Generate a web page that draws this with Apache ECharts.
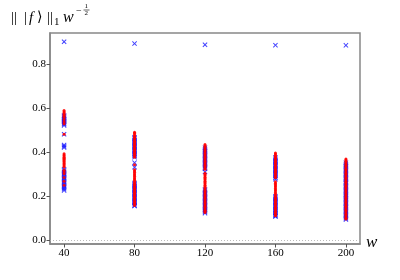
<!DOCTYPE html>
<html><head><meta charset="utf-8">
<script src="https://cdn.jsdelivr.net/npm/echarts@6/dist/echarts.min.js"></script>
<style>html,body{margin:0;padding:0;background:#fff}#c{width:400px;height:280px}</style>
</head><body><div id="c"></div>
<script>
// categories (w values)
const wValues = [40, 80, 120, 160, 200];
const xTicks = [40, 80, 120, 160, 200];
const yTicks = [0, 0.2, 0.4, 0.6, 0.8];

// red dots, per w
const red40 = [0.588,0.583,0.578,0.573,0.568,0.563,0.558,0.548,0.538,0.528,0.481,
  0.392,0.387,0.382,0.377,0.372,0.367,0.362,0.357,0.352,0.347,0.342,0.337,0.332,
  0.318,0.31,0.302,0.285,0.268,0.25];
const red80 = [0.49,0.485,0.479,0.473,0.467,0.461,0.455,0.449,0.443,0.437,0.431,0.425,0.419,0.413,0.407,0.401,0.395,0.389,0.383,0.377,
  0.342,0.32,0.314,0.308,0.302,0.296,0.29,0.284,0.278,0.272,0.266,0.26,0.254,0.248,0.242,0.236,0.23,0.224,0.218,0.212,0.206,0.2,0.194,0.188,0.182,0.176,0.17,0.164,0.158];
const red120 = [0.434,0.429,0.424,0.418,0.412,0.406,0.4,0.394,0.388,0.382,0.376,0.37,0.364,0.358,0.352,0.346,0.34,0.334,0.328,0.322,
  0.304,0.298,0.292,0.286,0.28,0.274,0.268,0.262,0.256,0.25,0.244,0.238,0.232,0.226,0.22,0.214,0.208,0.202,0.196,0.19,0.184,0.178,0.172,0.166,0.16,0.154,0.148,0.142,0.136,0.13,0.126];
const red160 = [0.396,0.391,0.386,0.38,0.374,0.368,0.362,0.356,0.35,0.344,0.338,0.332,0.326,0.32,0.314,0.308,0.302,0.296,0.29,0.283,
  0.265,0.259,0.253,0.247,0.241,0.235,0.229,0.223,0.217,0.211,0.205,0.199,0.193,0.187,0.181,0.175,0.169,0.163,0.157,0.151,0.145,0.139,0.133,0.127,0.121,0.115,0.111];
const red200 = [0.369,0.364,0.358,0.352,0.346,0.34,0.334,0.328,0.322,0.316,0.31,0.304,0.298,0.292,0.286,0.28,0.274,0.268,0.262,0.256,
  0.25,0.244,0.238,0.232,0.226,0.22,0.214,0.208,0.202,0.196,0.19,0.184,0.178,0.172,0.166,0.16,0.154,0.148,0.142,0.136,0.13,0.124,0.118,0.112,0.106,0.1,0.096];

// blue crosses, per w
const blue40 = [0.9,0.566,0.561,0.556,0.551,0.546,0.541,0.536,0.531,0.526,0.521,0.481,0.432,0.426,0.421,
  0.322,0.316,0.31,0.304,0.298,0.292,0.286,0.28,0.274,0.268,0.262,0.256,0.25,0.244,0.238,0.232,0.226];
const blue80 = [0.892,0.467,0.461,0.455,0.449,0.443,0.437,0.431,0.425,0.419,0.413,0.407,0.401,0.395,0.389,0.383,0.377,
  0.352,0.331,0.26,0.254,0.248,0.242,0.236,0.23,0.224,0.218,0.212,0.206,0.2,0.194,0.188,0.182,0.176,0.17,0.164,0.158,0.155];
const blue120 = [0.887,0.42,0.414,0.408,0.402,0.396,0.39,0.384,0.378,0.372,0.366,0.36,0.354,0.348,0.342,0.336,0.33,0.324,0.31,
  0.23,0.224,0.218,0.212,0.206,0.2,0.194,0.188,0.182,0.176,0.17,0.164,0.158,0.152,0.146,0.14,0.134,0.128,0.123];
const blue160 = [0.885,0.375,0.369,0.363,0.357,0.351,0.345,0.339,0.333,0.327,0.321,0.315,0.309,0.303,0.297,0.291,0.284,0.277,
  0.2,0.194,0.188,0.182,0.176,0.17,0.164,0.158,0.152,0.146,0.14,0.134,0.128,0.122,0.116,0.11,0.108];
const blue200 = [0.884,0.352,0.346,0.34,0.334,0.328,0.322,0.316,0.31,0.304,0.298,0.292,0.286,0.28,0.274,0.268,0.262,0.257,
  0.25,0.244,0.238,0.232,0.226,0.22,0.214,0.208,0.202,0.196,0.19,0.184,0.178,0.172,0.166,0.16,0.154,0.148,0.142,0.136,0.13,0.124,0.118,0.112,0.106,0.1,0.094];

const redSets = [red40, red80, red120, red160, red200];
const blueSets = [blue40, blue80, blue120, blue160, blue200];
const redData = [], blueData = [];
wValues.forEach((w, i) => {
  redSets[i].forEach(v => redData.push([w, v]));
  blueSets[i].forEach(v => blueData.push([w, v]));
});

const serif = '"Liberation Serif", "DejaVu Serif", serif';
const cross = 'path://M0,1.4L1.4,0L5,3.6L8.6,0L10,1.4L6.4,5L10,8.6L8.6,10L5,6.4L1.4,10L0,8.6L3.6,5Z';

const chart = echarts.init(document.getElementById('c'), null, {renderer: 'canvas'});
chart.setOption({
  animation: false,
  grid: {left: 50, right: 40, top: 33, bottom: 36, show: true, borderColor: '#888', borderWidth: 1.5, backgroundColor: 'transparent'},
  xAxis: {
    type: 'value', min: 32, max: 208,
    splitLine: {show: false},
    axisLine: {show: true, onZero: false, lineStyle: {color: '#888', width: 1.5}},
    axisTick: {show: true, length: 3.5, lineStyle: {color: '#555'}, customValues: xTicks},
    axisLabel: {customValues: xTicks, color: '#000', fontFamily: serif, fontSize: 11, margin: 4}
  },
  yAxis: {
    type: 'value', min: -0.017, max: 0.94,
    splitLine: {show: false},
    axisLine: {show: true, onZero: false, lineStyle: {color: '#888', width: 1.5}},
    axisTick: {show: true, length: 3.5, lineStyle: {color: '#555'}, customValues: yTicks},
    axisLabel: {customValues: yTicks, color: '#000', fontFamily: serif, fontSize: 11, margin: 4,
      formatter: v => v.toFixed(1)}
  },
  series: [
    {type: 'scatter', data: blueData, symbol: cross, symbolSize: 5,
      itemStyle: {color: '#1010ff', opacity: 0.8}, z: 2,
      markLine: {silent: true, symbol: 'none', label: {show: false},
        lineStyle: {color: '#aaa', type: [1, 2], width: 0.8}, data: [{yAxis: 0}]}},
    {type: 'scatter', data: redData, symbol: 'circle', symbolSize: 3,
      itemStyle: {color: '#ff0000', opacity: 0.9}, z: 3}
  ],
  graphic: [
    {type: 'text', left: 11, top: 11, style: {text: '||', fontFamily: serif, fontSize: 15, fill: '#000'}},
    {type: 'text', left: 24, top: 11, style: {text: '|', fontFamily: serif, fontSize: 15, fill: '#000'}},
    {type: 'text', left: 29, top: 11, style: {text: 'f', fontFamily: serif, fontSize: 15, fontStyle: 'italic', fill: '#000'}},
    {type: 'text', left: 37, top: 10, style: {text: '⟩', fontFamily: '"DejaVu Serif", serif', fontSize: 14, fill: '#000'}},
    {type: 'text', left: 47, top: 11, style: {text: '||', fontFamily: serif, fontSize: 15, fill: '#000'}},
    {type: 'text', left: 54, top: 17, style: {text: '1', fontFamily: serif, fontSize: 11, fill: '#000'}},
    {type: 'text', left: 63, top: 10, style: {text: 'w', fontFamily: serif, fontSize: 16, fontStyle: 'italic', fill: '#000'}},
    {type: 'text', left: 76, top: 6, style: {text: '−', fontFamily: serif, fontSize: 10, fill: '#000'}},
    {type: 'text', left: 84.5, top: 2.5, style: {text: '1', fontFamily: serif, fontSize: 7, fill: '#000'}},
    {type: 'line', shape: {x1: 83.5, y1: 10, x2: 89.5, y2: 10}, style: {stroke: '#000', lineWidth: 0.6}},
    {type: 'text', left: 84.5, top: 10, style: {text: '2', fontFamily: serif, fontSize: 7, fill: '#000'}},
    {type: 'text', left: 366, top: 234, style: {text: 'w', fontFamily: serif, fontSize: 17, fontStyle: 'italic', fill: '#000'}}
  ]
});
</script></body></html>
